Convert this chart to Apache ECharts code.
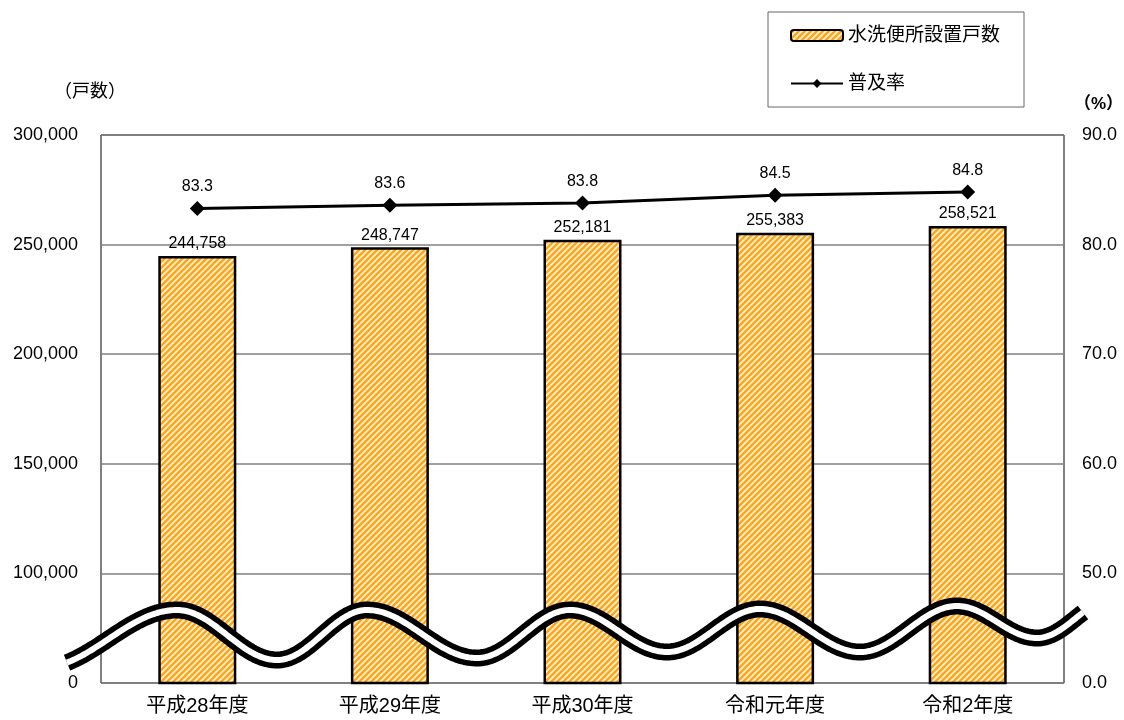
<!DOCTYPE html>
<html>
<head>
<meta charset="utf-8">
<script src="https://cdn.jsdelivr.net/npm/echarts@6/dist/echarts.min.js"></script>
<style>
  html, body { margin: 0; padding: 0; background: #fff; }
  #chart { width: 1124px; height: 720px; }
</style>
</head>
<body>
<div id="chart"></div>
<script>
// データ
const categories = ['平成28年度', '平成29年度', '平成30年度', '令和元年度', '令和2年度']
const households = [244758, 248747, 252181, 255383, 258521] // 水洗便所設置戸数
const rates = [83.3, 83.6, 83.8, 84.5, 84.8] // 普及率

const fontFamily = "'Liberation Sans', Arial, 'Noto Sans CJK JP', sans-serif"

// 棒の斜線模様
function makeStripe () {
  const c = document.createElement('canvas')
  c.width = 6
  c.height = 6
  const ctx = c.getContext('2d')
  ctx.fillStyle = '#ffa41c'
  ctx.fillRect(0, 0, 6, 6)
  ctx.strokeStyle = '#fff2cc'
  ctx.lineWidth = 1.8
  ctx.beginPath()
  ctx.moveTo(-2, 8); ctx.lineTo(8, -2)
  ctx.moveTo(-5, 5); ctx.lineTo(5, -5)
  ctx.moveTo(1, 11); ctx.lineTo(11, 1)
  ctx.stroke()
  return c
}

// 省略を示す波線（装飾、画面座標）
const waveKeys = [[40, 668], [177, 610], [277, 660], [367, 610], [477, 658], [570, 610],
  [667, 652], [760, 609], [860, 652], [957, 606], [1037, 638], [1115, 598]]
function wavePoints () {
  const pts = []
  for (let x = 67; x <= 1084; x += 2) {
    let i = 0
    while (i < waveKeys.length - 2 && x > waveKeys[i + 1][0]) i++
    const [x0, y0] = waveKeys[i]
    const [x1, y1] = waveKeys[i + 1]
    const t = (x - x0) / (x1 - x0)
    pts.push([x, y0 + (y1 - y0) * (1 - Math.cos(Math.PI * t)) / 2])
  }
  return pts
}

const chart = echarts.init(document.getElementById('chart'))
const stripe = makeStripe()

const option = {
  backgroundColor: '#fff',
  animation: false,
  textStyle: { fontFamily: fontFamily, color: '#000' },
  title: [
    { text: '（戸数）', left: 49, top: 78, textStyle: { fontSize: 18, fontWeight: 'normal', color: '#000', fontFamily: fontFamily } },
    { text: '（%）', left: 1069, top: 91, textStyle: { fontSize: 17, fontWeight: 'bold', color: '#000', fontFamily: fontFamily } }
  ],
  legend: {
    orient: 'vertical',
    left: 768,
    top: 12,
    padding: [14, 24, 14, 22],
    itemGap: 29,
    itemWidth: 52,
    itemHeight: 11,
    borderColor: '#666',
    borderWidth: 1,
    textStyle: { fontSize: 19, color: '#000', fontFamily: fontFamily },
    data: ['水洗便所設置戸数', '普及率']
  },
  grid: {
    left: 101,
    right: 60,
    top: 135,
    bottom: 37,
    show: true,
    borderColor: '#000',
    borderWidth: 1,
    backgroundColor: 'transparent'
  },
  xAxis: {
    type: 'category',
    data: categories,
    axisLine: { show: false },
    axisTick: { show: false },
    axisLabel: { fontSize: 20, color: '#000', margin: 13, fontFamily: fontFamily }
  },
  yAxis: [
    {
      type: 'value',
      min: 50000,
      max: 300000,
      interval: 50000,
      axisLine: { show: false },
      axisTick: { show: false },
      axisLabel: {
        fontSize: 18,
        color: '#000',
        margin: 23,
        formatter: v => v === 50000 ? '0' : v.toLocaleString('en-US')
      },
      splitLine: { lineStyle: { color: '#808080', width: 1.5 } }
    },
    {
      type: 'value',
      min: 40,
      max: 90,
      interval: 10,
      axisLine: { show: false },
      axisTick: { show: false },
      axisLabel: {
        fontSize: 18,
        color: '#000',
        margin: 18,
        formatter: v => v === 40 ? '0.0' : v.toFixed(1)
      },
      splitLine: { show: false }
    }
  ],
  series: [
    {
      name: '水洗便所設置戸数',
      type: 'bar',
      data: households,
      barWidth: 78,
      itemStyle: {
        color: { image: stripe, repeat: 'repeat' },
        borderColor: '#000',
        borderWidth: 2.5
      },
      label: {
        show: true,
        position: 'top',
        distance: 4,
        fontSize: 16,
        color: '#000',
        formatter: p => p.value.toLocaleString('en-US')
      }
    },
    {
      name: '普及率',
      type: 'line',
      yAxisIndex: 1,
      data: rates,
      symbol: 'diamond',
      symbolSize: 15,
      itemStyle: { color: '#000' },
      lineStyle: { color: '#000', width: 3 },
      label: {
        show: true,
        position: 'top',
        distance: 6,
        fontSize: 16,
        color: '#000',
        formatter: p => p.value.toFixed(1)
      }
    }
  ],
  graphic: [
    {
      type: 'polyline',
      z: 100,
      silent: true,
      shape: { points: wavePoints() },
      style: { stroke: '#000', lineWidth: 17, fill: null, lineCap: 'butt', lineJoin: 'round' }
    },
    {
      type: 'polyline',
      z: 101,
      silent: true,
      shape: { points: wavePoints() },
      style: { stroke: '#fff', lineWidth: 6, fill: null, lineCap: 'butt', lineJoin: 'round' }
    }
  ]
}

chart.setOption(option)
window.addEventListener('resize', () => chart.resize())
</script>
</body>
</html>
